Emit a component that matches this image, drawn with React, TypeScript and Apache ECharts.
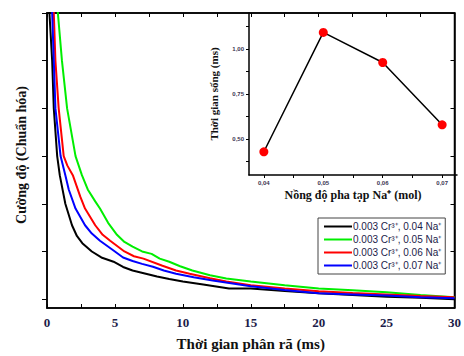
import React, { useEffect, useRef } from "react";
import * as echarts from "echarts";

const legendNames = [
  "0.003 Cr³⁺, 0.04 Na⁺",
  "0.003 Cr³⁺, 0.05 Na⁺",
  "0.003 Cr³⁺, 0.06 Na⁺",
  "0.003 Cr³⁺, 0.07 Na⁺",
];
const seriesColors = ["#000000", "#00ee00", "#ff0000", "#0000ff"];

const decay004: [number, number][] = [
  [0.1, 1.45], [0.18, 1.2], [0.38, 1.0], [0.5, 0.8], [0.75, 0.6], [0.94, 0.52], [1.35, 0.4],
  [1.84, 0.31], [2.2, 0.265], [2.6, 0.235], [3.3, 0.2], [4.0, 0.175], [4.9, 0.157], [5.6, 0.135],
  [6.3, 0.12], [7.2, 0.108], [8.1, 0.095], [9.0, 0.085], [10, 0.074], [11.5, 0.062], [13.4, 0.045],
  [15, 0.045], [17.5, 0.034], [20, 0.025], [22.5, 0.018], [25, 0.01], [27.5, 0.006], [30, 0.0],
];
const decay005: [number, number][] = [
  [0.6, 1.45], [0.8, 1.2], [1.1, 1.0], [1.48, 0.8], [2.1, 0.6], [2.57, 0.52], [3.0, 0.46],
  [3.55, 0.41], [3.9, 0.38], [4.5, 0.32], [5.15, 0.27], [5.7, 0.24], [6.3, 0.22], [7.0, 0.2],
  [7.7, 0.19], [8.3, 0.17], [9.0, 0.157], [9.8, 0.138], [10.7, 0.12], [12, 0.1], [13.2, 0.087],
  [15, 0.074], [17.5, 0.058], [20, 0.045], [22.5, 0.037], [25, 0.029], [27.5, 0.018], [30, 0.008],
];
const decay006: [number, number][] = [
  [0.4, 1.45], [0.5, 1.2], [0.62, 1.0], [0.86, 0.8], [1.23, 0.6], [1.5, 0.56], [1.9, 0.52],
  [2.45, 0.43], [2.8, 0.38], [3.55, 0.31], [4.1, 0.27], [4.65, 0.245], [5.7, 0.2], [6.4, 0.18],
  [7.1, 0.17], [8.5, 0.14], [9.5, 0.12], [10.5, 0.107], [12, 0.088], [13.2, 0.074], [15, 0.058],
  [17.5, 0.045], [20, 0.033], [22.5, 0.026], [25, 0.02], [27.5, 0.013], [30, 0.008],
];
const decay007: [number, number][] = [
  [0.3, 1.45], [0.38, 1.2], [0.5, 1.0], [0.62, 0.8], [1.0, 0.6], [1.35, 0.52], [1.6, 0.46],
  [2.1, 0.38], [2.8, 0.31], [3.3, 0.275], [3.9, 0.245], [5.0, 0.2], [5.6, 0.175], [6.3, 0.16],
  [7.0, 0.148], [7.8, 0.136], [8.6, 0.12], [9.5, 0.107], [10.8, 0.092], [12.2, 0.078], [15, 0.054],
  [17.5, 0.038], [20, 0.025], [22.5, 0.02], [25, 0.015], [27.5, 0.008], [30, 0.004],
];
const decaySeries = [decay004, decay005, decay006, decay007];

const naConcentration = [0.04, 0.05, 0.06, 0.07];
const lifetime = [0.429, 1.092, 0.925, 0.579];

const mainYTicks = [0, 0.2, 0.4, 0.6, 0.8, 1.0, 1.2];
const insetXTicks = [0.04, 0.045, 0.05, 0.055, 0.06, 0.065, 0.07];
const insetXLabels = [0.04, 0.05, 0.06, 0.07];
const insetYTicks = [0.375, 0.5, 0.625, 0.75, 0.875, 1.0, 1.125];
const insetYLabels = [0.5, 0.75, 1.0];

const serif = "Liberation Serif";
const sans = "Liberation Sans";
const navy = "#1c1c4a";

export default function App() {
  const ref = useRef<HTMLDivElement>(null);
  useEffect(() => {
    if (!ref.current) return;
    const chart = echarts.init(ref.current, null, { renderer: "svg" });
    const axisLine = { show: true, onZero: false, lineStyle: { color: "#000", width: 1.5 } };
    const option: any = {
      animation: false,
      backgroundColor: "#fff",
      grid: [
        { left: 47, top: 13, right: 7, bottom: 43, show: true, borderColor: "#000", borderWidth: 1.5 },
        { left: 249, top: 13, right: 7, bottom: 181 },
      ],
      graphic: [
        {
          type: "text",
          x: 21,
          y: 155,
          rotation: Math.PI / 2,
          style: {
            text: "Cường độ (Chuẩn hóa)",
            align: "center",
            verticalAlign: "middle",
            font: `bold 14px "${serif}"`,
            fill: "#111",
          },
        },
      ],
      legend: {
        data: legendNames,
        orient: "vertical",
        left: 318,
        top: 218,
        icon: "rect",
        itemWidth: 28,
        itemHeight: 2,
        itemGap: 0,
        padding: [2, 4, 2, 6],
        borderColor: "#444",
        borderWidth: 1,
        backgroundColor: "#fff",
        textStyle: { fontFamily: sans, fontSize: 10, color: navy, lineHeight: 13, padding: [0, 0, 0, -4] },
      },
      xAxis: [
        {
          type: "value",
          gridIndex: 0,
          min: 0,
          max: 30,
          interval: 5,
          name: "Thời gian phân rã (ms)",
          nameLocation: "middle",
          nameGap: 28,
          nameTextStyle: { fontFamily: serif, fontWeight: "bold", fontSize: 15, color: "#111" },
          axisLine,
          axisTick: { inside: true, length: 4, lineStyle: { color: "#000", width: 1 } },
          minorTick: { show: true, splitNumber: 2, length: 4, lineStyle: { color: "#000", width: 1 } },
          axisLabel: { fontFamily: serif, fontWeight: "bold", fontSize: 13, color: navy, margin: 8 },
          splitLine: { show: false },
        },
        {
          type: "value",
          gridIndex: 0,
          position: "top",
          min: 0,
          max: 30,
          interval: 5,
          axisLine,
          axisTick: { inside: true, length: 4, lineStyle: { color: "#000", width: 1 } },
          minorTick: { show: true, splitNumber: 2, length: 4, lineStyle: { color: "#000", width: 1 } },
          axisLabel: { show: false },
          splitLine: { show: false },
        },
        {
          type: "value",
          gridIndex: 1,
          min: 0.0375,
          max: 0.0725,
          name: "Nồng độ pha tạp Na⁺ (mol)",
          nameLocation: "middle",
          nameGap: 14,
          nameTextStyle: { fontFamily: serif, fontWeight: "bold", fontSize: 12, color: "#111" },
          axisLine,
          axisTick: { inside: false, length: 3, customValues: insetXTicks, lineStyle: { color: "#000", width: 1 } },
          axisLabel: {
            customValues: insetXLabels,
            fontFamily: sans,
            fontWeight: "bold",
            fontSize: 6,
            color: "#3a3450",
            margin: 5,
            formatter: (v: number) => v.toFixed(2).replace(".", ","),
          },
          splitLine: { show: false },
        },
      ],
      yAxis: [
        {
          type: "value",
          gridIndex: 0,
          min: -0.037,
          max: 1.2,
          axisLine,
          axisTick: { inside: false, length: 5, customValues: mainYTicks, lineStyle: { color: "#000", width: 1 } },
          axisLabel: { show: false },
          splitLine: { show: false },
        },
        {
          type: "value",
          gridIndex: 0,
          position: "right",
          min: -0.037,
          max: 1.2,
          axisLine,
          axisTick: { inside: true, length: 4, customValues: mainYTicks, lineStyle: { color: "#000", width: 1 } },
          axisLabel: { show: false },
          splitLine: { show: false },
        },
        {
          type: "value",
          gridIndex: 1,
          min: 0.3,
          max: 1.2,
          name: "Thời gian sống (ms)",
          nameLocation: "middle",
          nameGap: 30,
          nameTextStyle: { fontFamily: serif, fontWeight: "bold", fontSize: 11, color: "#111" },
          axisLine,
          axisTick: { inside: false, length: 3, customValues: insetYTicks, lineStyle: { color: "#000", width: 1 } },
          axisLabel: {
            customValues: insetYLabels,
            fontFamily: sans,
            fontWeight: "bold",
            fontSize: 6,
            color: "#3a3450",
            margin: 5,
            formatter: (v: number) => v.toFixed(2).replace(".", ","),
          },
          splitLine: { show: false },
        },
      ],
      series: [
        ...decaySeries.map((d, i) => ({
          name: legendNames[i],
          type: "line",
          xAxisIndex: 0,
          yAxisIndex: 0,
          data: d,
          showSymbol: false,
          clip: true,
          color: seriesColors[i],
          lineStyle: { color: seriesColors[i], width: 2 },
          z: 2 + i,
        })),
        {
          name: "lifetime",
          type: "line",
          xAxisIndex: 2,
          yAxisIndex: 2,
          data: naConcentration.map((x, i) => [x, lifetime[i]]),
          symbol: "circle",
          symbolSize: 9,
          itemStyle: { color: "#ff0000" },
          lineStyle: { color: "#000", width: 1.5 },
          z: 10,
        },
      ],
    };
    chart.setOption(option);
    return () => chart.dispose();
  }, []);
  return <div ref={ref} style={{ width: 464, height: 356, position: "absolute", left: 0, top: 0 }} />;
}
